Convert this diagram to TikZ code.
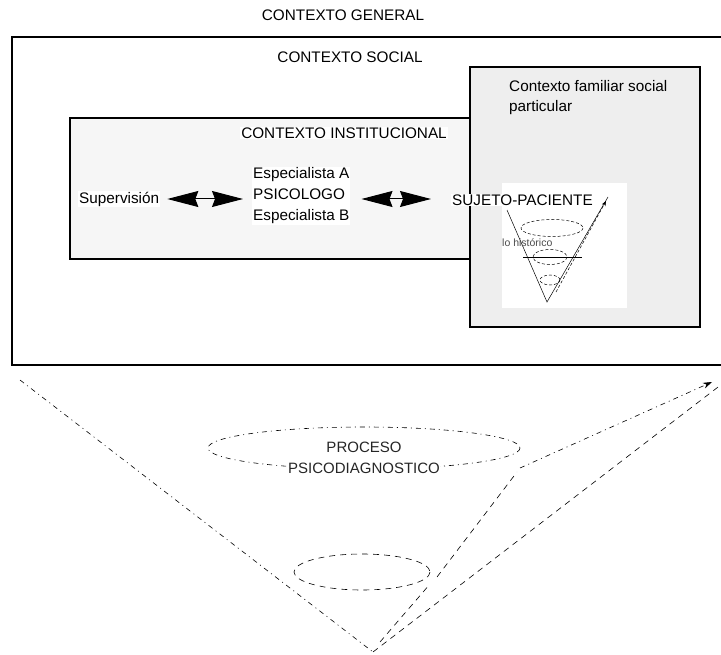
\documentclass[tikz,border=0pt]{standalone}
\usepackage{fontspec}
\setmainfont{Liberation Sans}
\usetikzlibrary{arrows.meta,positioning}
\definecolor{InstClr}{gray}{0.965}
\definecolor{FamClr}{gray}{0.933}

\begin{document}
\begin{tikzpicture}[x=1pt,y=-1pt,
  txt/.style={fill=white,inner sep=1pt,font=\fontsize{15.3}{18}\selectfont},
  caja/.style={draw=black,line width=1.3pt},
  flecha/.style={line width=1pt,{Stealth[length=31pt,width=16pt,inset=3pt]}-{Stealth[length=31pt,width=16pt,inset=3pt]}},
  raya/.style={line width=0.6pt,dash pattern=on 5pt off 4pt on 1pt off 4pt},
  guion/.style={line width=0.6pt,dash pattern=on 6pt off 5pt},
  fino/.style={line width=0.5pt,dash pattern=on 3pt off 2pt}]
\useasboundingbox (0,0) rectangle (721,655);

% cajas de contexto
\draw[caja,fill=white] (12,37) rectangle (740,365);
\draw[caja,fill=InstClr] (70,118) rectangle (470,259);
\draw[caja,fill=FamClr] (470,67) rectangle (700,327);

\node[txt,fill=none] (gen) at (343,15) {CONTEXTO GENERAL};
\node[txt,fill=none] (soc) at (350,57) {CONTEXTO SOCIAL};
\node[txt] (inst) at (344,133) {CONTEXTO INSTITUCIONAL};
\node[txt,fill=none,anchor=west,align=left,font=\fontsize{15.3}{20}\selectfont] (fam) at (508,98) {Contexto familiar social\\particular};

% cono del sujeto
\fill[white] (502,183) rectangle (627,308);
\coordinate (sIzq) at (507,210);
\coordinate (sApice) at (547,302);
\coordinate (sDer) at (608,197);
\draw[line width=0.5pt] (sIzq) -- (sApice) -- (sDer);
\draw[fino] (552,228) ellipse [x radius=31, y radius=8.5];
\draw[line width=0.4pt] (523,257) -- (582,257);
\draw[fino] (550,257) ellipse [x radius=17, y radius=7.5];
\draw[fino] (550,280) ellipse [x radius=10, y radius=5];
\draw[fino,-{Stealth[length=5pt,width=4pt]}] (556,292) -- (606,201);
\node[inner sep=0pt,anchor=west,text=black!70,font=\fontsize{10.5}{12}\selectfont] (hist) at (502,243) {lo histórico};

% personas
\node[txt,anchor=west] (sup) at (78,199) {Supervisión};
\node[txt,anchor=west,align=left,font=\fontsize{15.3}{21}\selectfont] (esp) at (252,196) {Especialista A\\PSICOLOGO\\Especialista B};
\node[txt,anchor=west] (suj) at (451,200) {SUJETO-PACIENTE};

\draw[flecha,shorten <=7pt,shorten >=9pt] (sup.east) -- (sup.east -| esp.west);
\draw[flecha,shorten <=11pt,shorten >=20pt] (esp.east |- sup.east) -- (sup.east -| suj.west);

% cono del proceso
\coordinate (cIzq) at (20,380);
\coordinate (cApice) at (373,652);
\coordinate (cDer) at (722,384);
\draw[raya] (cIzq) -- (cApice);
\draw[guion] (cApice) -- (cDer);
\draw[guion] (362,572) ellipse [x radius=68, y radius=18];
\draw[raya] (364,448) ellipse [x radius=156, y radius=21];
\draw[guion] (380,642) -- (430,584);
\draw[guion] (437,577) -- (517,472);
\draw[raya,-{Stealth[length=9pt,width=6pt]}] (520,468) -- (712,382);
\node[fill=white,inner sep=0pt,align=center,text=black!85,font=\fontsize{15}{21}\selectfont] (proc) at (364,458) {PROCESO\\PSICODIAGNOSTICO};
\end{tikzpicture}
\end{document}
